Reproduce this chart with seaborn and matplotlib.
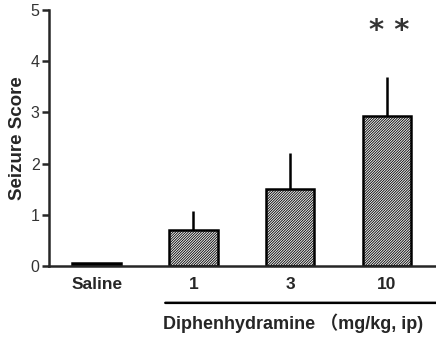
import matplotlib
matplotlib.use("Agg")
import matplotlib.pyplot as plt
import seaborn as sns
import pandas as pd
import numpy as np

groups = ["Saline", "1", "3", "10"]
means = [0.05, 0.70, 1.51, 2.94]
sems = [0.0, 0.38, 0.69, 0.75]
y_ticks = [0, 1, 2, 3, 4, 5]
x_title = "Diphenhydramine （mg/kg, ip)"
y_title = "Seizure Score"

df = pd.DataFrame({"group": groups, "score": means})

sns.set_style("ticks")
plt.rcParams['font.family'] = ['Liberation Sans', 'Noto Sans CJK SC', 'DejaVu Sans']
plt.rcParams['hatch.linewidth'] = 0.6
plt.rcParams['hatch.color'] = '#666666'

fig = plt.figure(figsize=(4.36, 3.38), dpi=100)
ax = fig.add_axes([0.113, 0.213, 0.885, 0.757])

sns.barplot(data=df, x="group", y="score", order=groups, color="white",
            width=0.5, edgecolor="black", linewidth=1.8, ax=ax, errorbar=None)
for i, p in enumerate(ax.patches):
    if i == 0:
        p.set_facecolor("black")
    else:
        p.set_facecolor("#f2f2f2")
        p.set_hatch("/////////////")

xpos = np.arange(len(groups))
ax.errorbar(xpos, means, yerr=[np.zeros(len(sems)), sems], fmt="none",
            ecolor="black", elinewidth=1.8, capsize=0, zorder=1)

ax.set_xlim(-0.49, 3.5)
ax.set_ylim(0, 5)
ax.set_yticks(y_ticks)
ax.set_yticklabels([str(t) for t in y_ticks], fontsize=11.5, color="#333333")
ax.set_xticks(xpos)
ax.set_xticklabels(groups, fontsize=12.5, fontweight="bold")
ax.tick_params(axis="x", length=0, pad=8)
ax.tick_params(axis="y", length=5, width=1.8, direction="out", pad=2)
ax.set_xlabel("")
ax.set_ylabel(y_title, fontsize=13.5, fontweight="bold", labelpad=3)
sns.despine(ax=ax)
for s in ["left", "bottom"]:
    ax.spines[s].set_linewidth(1.8)

# significance marker
ax.text(3.03, 4.6, "* *", ha="center", va="center", fontsize=21,
        fontweight="bold", family="DejaVu Sans", color="#333333")

# group line and label below
ax.annotate("", xy=(0.71, -0.72), xytext=(3.6, -0.72), xycoords="data",
            arrowprops=dict(arrowstyle="-", lw=1.8, color="black",
                            shrinkA=0, shrinkB=0),
            annotation_clip=False)
ax.text(0.69, -1.12, x_title, ha="left", va="center", fontsize=13,
        fontweight="bold", transform=ax.transData, clip_on=False)

fig.savefig("out.png", dpi=100)
